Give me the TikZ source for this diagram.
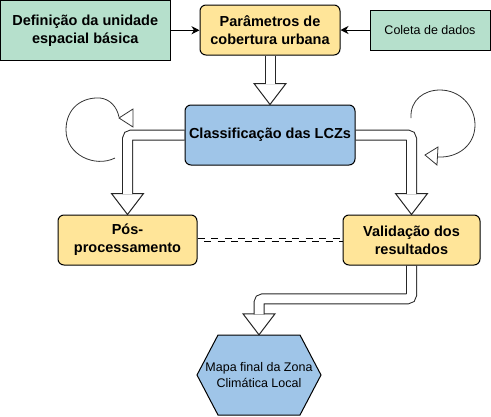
\documentclass[tikz,border=0pt]{standalone}
\usepackage{fontspec}
\setmainfont{Liberation Sans}
\usetikzlibrary{calc,arrows.meta,backgrounds}
\definecolor{cgreen}{RGB}{182,224,204}
\definecolor{cyellow}{RGB}{255,229,153}
\definecolor{cblue}{RGB}{159,197,232}
\tikzset{
  box/.style={draw=black, line width=1pt, inner sep=2pt, align=center,
    font=\fontsize{14.5}{18}\selectfont\bfseries},
  gbox/.style={box, fill=cgreen},
  ybox/.style={box, fill=cyellow, rounded corners=6pt},
  bbox/.style={box, fill=cblue, rounded corners=6pt},
  thinarrow/.style={draw=black, line width=1pt, -{Stealth[length=8pt,width=8pt,inset=2.5pt]}},
  faout/.style={line width=11pt, draw=black!85, line cap=butt, rounded corners=4pt},
  fain/.style={line width=9pt, draw=white, line cap=butt, rounded corners=4pt},
  headstyle/.style={fill=white, draw=black!85, line width=1pt, line join=miter},
  loopline/.style={draw=black!80, line width=0.8pt},
  linkline/.style={draw=black, line width=1pt, dash pattern=on 7pt off 6.5pt},
}
\newcommand{\downhead}[1]{\filldraw[headstyle] ($#1+(-16,-21)$) -- #1 -- ($#1+(16,-21)$) -- cycle;}
\begin{document}
\begin{tikzpicture}[x=1pt,y=-1pt]
\useasboundingbox (0,0) rectangle (491,416);

% boxes
\node[gbox, minimum width=169.5pt, minimum height=59.5pt] (def) at (85.25,30.25) {Definição da unidade\\espacial básica};
\node[ybox, minimum width=140pt, minimum height=50pt] (par) at (270,30) {Parâmetros de\\cobertura urbana};
\node[gbox, font=\fontsize{12.5}{15}\selectfont, minimum width=120pt, minimum height=40pt] (col) at (430,30) {Coleta de dados};
\node[bbox, minimum width=170pt, minimum height=60pt] (cls) at (270,135) {Classificação das LCZs};
\node[ybox, minimum width=139pt, minimum height=50pt] (pos) at (127.5,240) {Pós-\\processamento};
\node[ybox, minimum width=137pt, minimum height=50pt] (val) at (411.5,240) {Validação dos\\resultados};

% hexagon
\coordinate (hexc) at (259,375);
\filldraw[fill=cblue, draw=black, line width=1pt, line join=miter]
  ($(hexc)+(-62,0)$) -- ($(hexc)+(-41,-40)$) -- ($(hexc)+(41,-40)$) -- ($(hexc)+(62,0)$)
  -- ($(hexc)+(41,40)$) -- ($(hexc)+(-41,40)$) -- cycle;
\node[align=center, inner sep=0pt, font=\fontsize{12.5}{16}\selectfont, minimum width=124pt, minimum height=80pt] (mapa) at (hexc) {Mapa final da Zona\\Climática Local};

% thin arrows
\draw[thinarrow] (def.east) -- (def.east -| par.west);
\draw[thinarrow] (col.west) -- (par.east);

% dashed link
\draw[linkline] ([yshift=1.5pt]pos.east) -- ([yshift=1.5pt]val.west);
\draw[linkline, dash phase=7pt] ([yshift=-1.5pt]pos.east) -- ([yshift=-1.5pt]val.west);

% flex arrows
\begin{scope}[on background layer]
  \downhead{(cls.north)}
  \draw[faout] (par.south) -- ($(cls.north)+(0,-20.4)$);
  \draw[fain] (par.south) -- ($(cls.north)+(0,-20.4)$);

  \downhead{(pos.north)}
  \draw[faout] (cls.west) -| ($(pos.north)+(0,-20.4)$);
  \draw[fain] (cls.west) -| ($(pos.north)+(0,-20.4)$);

  \downhead{(val.north)}
  \draw[faout] (cls.east) -| ($(val.north)+(0,-20.4)$);
  \draw[fain] (cls.east) -| ($(val.north)+(0,-20.4)$);

  \downhead{(mapa.north)}
  \draw[faout] (val.south) |- ($(mapa.north)+(0,-36)$) -- ($(mapa.north)+(0,-20.4)$);
  \draw[fain] (val.south) |- ($(mapa.north)+(0,-36)$) -- ($(mapa.north)+(0,-20.4)$);
\end{scope}

% loops
\draw[loopline] (115,158) .. controls (95,168) and (66,155) .. (66,130)
  .. controls (66,108) and (82,97) .. (100,98)
  .. controls (110,99) and (117,107) .. (119,117);
\filldraw[loopline, fill=white, line join=miter] (119,118) -- (133,109) -- (133,127) -- cycle;

\draw[loopline] (411,118) .. controls (410,100) and (424,90) .. (440,90)
  .. controls (460,90) and (475,106) .. (475,125)
  .. controls (475,145) and (458,158) .. (438,157);
\filldraw[loopline, fill=white, line join=miter] (425,155) -- (438,147) -- (437,165) -- cycle;
\end{tikzpicture}
\end{document}
